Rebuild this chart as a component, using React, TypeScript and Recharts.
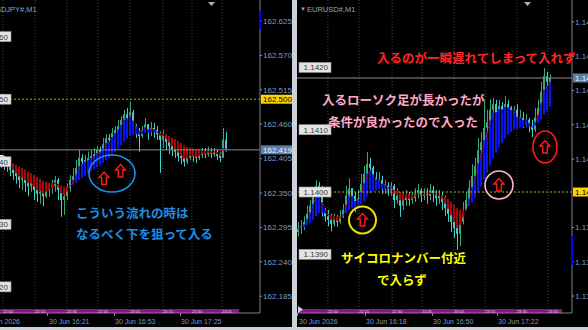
import React from 'react';
import { ComposedChart, Bar, Line, XAxis, YAxis, ReferenceLine, ReferenceDot, ReferenceArea } from 'recharts';

// ---------------- USDJPY#, M1 (left panel) ----------------
const leftFirstOpen = 162.395;
const leftClose = [
  162.403, 162.398, 162.393, 162.387, 162.382, 162.377, 162.371, 162.374, 162.366, 162.361,
  162.365, 162.355, 162.349, 162.352, 162.345, 162.355, 162.358, 162.361, 162.371, 162.355,
  162.339, 162.345, 162.358, 162.371, 162.377, 162.390, 162.406, 162.400, 162.403, 162.406,
  162.409, 162.412, 162.419, 162.416, 162.428, 162.438, 162.435, 162.446, 162.451, 162.457,
  162.467, 162.476, 162.470, 162.479, 162.457, 162.448, 162.441, 162.451, 162.460, 162.448,
  162.454, 162.451, 162.444, 162.435, 162.441, 162.432, 162.425, 162.419, 162.416, 162.409,
  162.406, 162.400, 162.406, 162.412, 162.409, 162.406, 162.411, 162.416, 162.412, 162.416,
  162.412, 162.416, 162.409, 162.406, 162.435, 162.419,
];
const leftHigh = [
  162.408, 162.406, 162.403, 162.397, 162.393, 162.387, 162.384, 162.387, 162.377, 162.371,
  162.374, 162.366, 162.361, 162.361, 162.357, 162.361, 162.366, 162.371, 162.377, 162.374,
  162.358, 162.355, 162.365, 162.379, 162.390, 162.403, 162.419, 162.412, 162.411, 162.416,
  162.419, 162.422, 162.425, 162.424, 162.438, 162.444, 162.444, 162.454, 162.457, 162.467,
  162.473, 162.483, 162.486, 162.496, 162.483, 162.460, 162.454, 162.457, 162.470, 162.460,
  162.464, 162.462, 162.457, 162.448, 162.451, 162.444, 162.438, 162.432, 162.425, 162.422,
  162.419, 162.416, 162.419, 162.422, 162.419, 162.419, 162.419, 162.422, 162.422, 162.424,
  162.422, 162.422, 162.419, 162.416, 162.454, 162.448,
];
const leftLow = [
  162.390, 162.387, 162.384, 162.377, 162.371, 162.365, 162.358, 162.355, 162.352, 162.345,
  162.352, 162.339, 162.336, 162.333, 162.329, 162.342, 162.344, 162.349, 162.352, 162.339,
  162.312, 162.315, 162.339, 162.352, 162.365, 162.374, 162.387, 162.390, 162.393, 162.393,
  162.400, 162.403, 162.408, 162.406, 162.416, 162.422, 162.425, 162.432, 162.435, 162.444,
  162.451, 162.460, 162.457, 162.464, 162.451, 162.438, 162.416, 162.438, 162.451, 162.435,
  162.441, 162.438, 162.435, 162.382, 162.422, 162.419, 162.412, 162.409, 162.406, 162.400,
  162.396, 162.392, 162.396, 162.403, 162.400, 162.398, 162.403, 162.406, 162.406, 162.408,
  162.406, 162.408, 162.403, 162.400, 162.406, 162.416,
];

// ---------------- EURUSD#, M1 (right panel) ----------------
const rightFirstOpen = 1.13936;
const rightClose = [
  1.13942, 1.13945, 1.13952, 1.13965, 1.13978, 1.13994, 1.14010, 1.14003, 1.13968, 1.13961,
  1.13955, 1.13949, 1.13955, 1.13952, 1.13961, 1.13971, 1.13994, 1.14006, 1.13994, 1.13978,
  1.13990, 1.14013, 1.14029, 1.14045, 1.14039, 1.14022, 1.14013, 1.14019, 1.14006, 1.14010,
  1.14003, 1.14010, 1.13987, 1.13994, 1.13978, 1.13987, 1.13994, 1.13987, 1.13990, 1.13997,
  1.14003, 1.13994, 1.13997, 1.13994, 1.14003, 1.13997, 1.13990, 1.13994, 1.13984, 1.13974,
  1.13965, 1.13952, 1.13942, 1.13933, 1.13952, 1.13971, 1.13987, 1.14006, 1.14026, 1.14042,
  1.14067, 1.14080, 1.14103, 1.14112, 1.14132, 1.14141, 1.14128, 1.14138, 1.14132, 1.14141,
  1.14135, 1.14128, 1.14132, 1.14109, 1.14119, 1.14112, 1.14116, 1.14106, 1.14100, 1.14119,
  1.14135, 1.14161, 1.14186, 1.14177, 1.14183,
];
const rightHigh = [
  1.13952, 1.13955, 1.13961, 1.13978, 1.13987, 1.14003, 1.14019, 1.14016, 1.14010, 1.13974,
  1.13971, 1.13965, 1.13965, 1.13963, 1.13971, 1.13981, 1.14010, 1.14022, 1.14006, 1.14000,
  1.14003, 1.14029, 1.14042, 1.14064, 1.14055, 1.14042, 1.14032, 1.14032, 1.14026, 1.14019,
  1.14016, 1.14016, 1.14013, 1.14006, 1.14000, 1.14000, 1.14003, 1.14000, 1.14000, 1.14006,
  1.14013, 1.14006, 1.14006, 1.14006, 1.14013, 1.14010, 1.14003, 1.14003, 1.14000, 1.13994,
  1.13981, 1.13971, 1.13958, 1.13952, 1.13968, 1.13984, 1.14000, 1.14019, 1.14045, 1.14055,
  1.14087, 1.14096, 1.14148, 1.14132, 1.14148, 1.14151, 1.14148, 1.14148, 1.14144, 1.14154,
  1.14148, 1.14138, 1.14138, 1.14141, 1.14132, 1.14128, 1.14125, 1.14119, 1.14116, 1.14135,
  1.14148, 1.14177, 1.14199, 1.14193, 1.14189,
];
const rightLow = [
  1.13929, 1.13933, 1.13939, 1.13952, 1.13961, 1.13974, 1.13987, 1.13990, 1.13961, 1.13952,
  1.13945, 1.13937, 1.13945, 1.13944, 1.13949, 1.13958, 1.13968, 1.13987, 1.13978, 1.13968,
  1.13974, 1.13987, 1.14013, 1.14026, 1.14029, 1.14013, 1.14003, 1.14006, 1.13997, 1.13997,
  1.13994, 1.13994, 1.13974, 1.13981, 1.13960, 1.13971, 1.13978, 1.13978, 1.13981, 1.13984,
  1.13990, 1.13984, 1.13987, 1.13981, 1.13987, 1.13984, 1.13978, 1.13981, 1.13971, 1.13961,
  1.13952, 1.13936, 1.13926, 1.13907, 1.13913, 1.13948, 1.13971, 1.13984, 1.14003, 1.14022,
  1.14042, 1.14058, 1.14080, 1.14093, 1.14106, 1.14109, 1.14116, 1.14120, 1.14122, 1.14127,
  1.14125, 1.14119, 1.14120, 1.14103, 1.14106, 1.14103, 1.14104, 1.14096, 1.14088, 1.14096,
  1.14116, 1.14127, 1.14158, 1.14167, 1.14170,
];

// ---------------- axes / labels ----------------
const leftPriceTicks = [162.625, 162.57, 162.515, 162.46, 162.405, 162.35, 162.295, 162.24, 162.185];
const rightPriceTicks = [1.14273, 1.14218, 1.14163, 1.14108, 1.14053, 1.13943, 1.13888, 1.13833];

const leftTimeSlots = [6.67, 16, 38, 60];
const leftTimeLabels = ['30 Jun 2026', '30 Jun 16:21', '30 Jun 16:53', '30 Jun 17:25'];
const rightTimeSlots = [0.33, 22.7, 45, 66.7];
const rightTimeLabels = ['30 Jun 2026', '30 Jun 16:18', '30 Jun 16:50', '30 Jun 17:22'];

const leftGridSlots = [1, 11.7, 22.3, 32.7, 43.3, 54.3, 64, 74];
const rightGridSlots = [10.3, 20.7, 31.7, 41.7, 52.3, 62.7, 73.3, 83.7];
const bandLabels = ['22:00', '22:15', '22:30', '22:45', '23:00', '23:15', '23:30', '23:45'];

const leftLevels = [162.6, 162.5, 162.4, 162.3, 162.2];
const leftLevelLabels = ['162.60', '162.50', '162.40', '162.30', '162.20'];
const rightLevels = [1.142, 1.141, 1.14, 1.139];
const rightLevelLabels = ['1.1420', '1.1410', '1.1400', '1.1390'];

const leftBid = 162.419;
const leftAlert = 162.5;
const rightBid = 1.14183;
const rightAlert = 1.14;

// annotations (slot, price)
const leftNotes = [
  { slot: 25.3, price: 162.3181, text: 'こういう流れの時は' },
  { slot: 25.3, price: 162.2845, text: 'なるべく下を狙って入る' },
];
const leftRings = [{ slot: 37.33, price: 162.3812 }];
const leftArrows = [
  { slot: 34.67, price: 162.3732 },
  { slot: 40.17, price: 162.3852 },
];
const rightRedNotes = [{ slot: 26.7, price: 1.142167, text: '入るのが一瞬遅れてしまって入れず' }];
const rightPinkNotes = [
  { slot: 8.3, price: 1.141477, text: '入るローソク足が長かったが' },
  { slot: 10.3, price: 1.141124, text: '条件が良かったので入った' },
];
const rightYellowNotes = [
  { slot: 14.7, price: 1.138941, text: 'サイコロナンバー付近' },
  { slot: 26.7, price: 1.138588, text: 'で入らず' },
];
const rightYellowRing = { slot: 21.83, price: 1.139551 };
const rightPinkRing = { slot: 67.33, price: 1.140112 };
const rightRedRing = { slot: 82.67, price: 1.140722 };

// ---------------- helpers ----------------
const BULL = '#35ab7c';
const BEAR = '#3fd0cc';
const AXIS_TXT = '#7a9cc6';
const FONT = "'Liberation Sans', Arial, sans-serif";
const JP = "'Noto Sans CJK JP', 'Noto Sans CJK SC', sans-serif";
const TOP = 2100;

function ema(vals: number[], n: number) {
  const k = 2 / (n + 1);
  let e = vals[0];
  return vals.map((v) => (e = e + k * (v - e)));
}

function build(open0: number, close: number[], high: number[], low: number[]) {
  const f = ema(close, 3);
  const s = ema(close, 16);
  return close.map((c, i) => ({
    x: i + 0.5,
    o: i === 0 ? open0 : close[i - 1],
    h: high[i],
    l: low[i],
    c,
    f: f[i],
    s: s[i],
  }));
}

const leftData = build(leftFirstOpen, leftClose, leftHigh, leftLow);
const rightData = build(rightFirstOpen, rightClose, rightHigh, rightLow);

function CandleShape(props: any) {
  const { x, y, width, height, payload } = props;
  if (!payload || !isFinite(y) || !isFinite(height)) return null;
  const top = Math.min(y, y + height);
  const hp = Math.abs(height);
  const cx = Math.floor(x + width / 2);
  const range = payload.h - payload.l;
  const k = range > 0 ? hp / range : 0;
  const yo = top + (payload.h - payload.o) * k;
  const yc = top + (payload.h - payload.c) * k;
  const col = payload.c >= payload.o ? BULL : BEAR;
  return (
    <g>
      <rect x={cx} y={top} width={1} height={Math.max(1, hp)} fill={col} />
      <rect x={cx - 1} y={Math.min(yo, yc)} width={2} height={Math.max(1, Math.abs(yc - yo))} fill={col} />
    </g>
  );
}

function CloudShape(props: any) {
  const { x, y, width, height, payload } = props;
  if (!payload || !isFinite(y) || !isFinite(height)) return null;
  const top = Math.min(y, y + height);
  const hp = Math.abs(height);
  const cx = Math.floor(x + width / 2);
  const col = payload.f >= payload.s ? '#0a14f0' : '#a80808';
  return <rect x={cx - 1} y={top} width={2} height={Math.max(1, hp)} fill={col} />;
}

const arrowShape = (p: any) => {
  const cx = p.cx;
  const cy = p.cy;
  return (
    <path
      d={`M${cx},${cy - 6.5} L${cx + 5},${cy - 1} L${cx + 2.3},${cy - 1} L${cx + 2.3},${cy + 6} L${cx - 2.3},${cy + 6} L${cx - 2.3},${cy - 1} L${cx - 5},${cy - 1} Z`}
      fill="none"
      stroke="#ff1a1a"
      strokeWidth={1.4}
    />
  );
};

const ringShape = (stroke: string, rx: number, ry: number, sw: number) => (p: any) => (
  <ellipse cx={p.cx} cy={p.cy} rx={rx} ry={ry} fill="none" stroke={stroke} strokeWidth={sw} />
);

const noteShape = (text: string, color: string) => (p: any) => (
  <text x={p.cx} y={p.cy} dominantBaseline="central" fill={color} fontSize={12.5} fontWeight={700} fontFamily={JP}>
    {text}
  </text>
);

const levelShape = (label: string, dx: number) => (p: any) => (
  <g>
    <rect x={p.cx + dx} y={p.cy - 5} width={32} height={10} fill="#e4e4e4" stroke="#9a9a9a" strokeWidth={0.6} />
    <text x={p.cx + dx + 29} y={p.cy + 0.5} textAnchor="end" dominantBaseline="central" fill="#3a3a3a" fontSize={8} fontFamily={FONT}>
      {label}
    </text>
  </g>
);

const tagShape = (label: string, bg: string, fg: string) => (p: any) => (
  <g>
    <rect x={p.cx + 1} y={p.cy - 4.5} width={36} height={9} fill={bg} />
    <text x={p.cx + 3} y={p.cy + 0.5} dominantBaseline="central" fill={fg} fontSize={8} fontFamily={FONT}>
      {label}
    </text>
  </g>
);

const bandTextShape = (label: string) => (p: any) => (
  <text x={p.cx} y={p.cy} textAnchor="start" dominantBaseline="central" fill="#e8c8e8" fontSize={4} fontFamily={FONT}>
    {label}
  </text>
);

const timeTick = (slots: number[], labels: string[], firstEnd: boolean) => (p: any) => {
  const idx = slots.indexOf(p.payload.value);
  const label = labels[idx] ?? '';
  const end = firstEnd && idx === 0;
  const x = p.x;
  return (
    <g>
      {!end && <rect x={Math.floor(x)} y={313} width={1} height={3} fill="#8a8a8a" />}
      <text
        x={end ? x : x + 1}
        y={321}
        textAnchor={end ? 'end' : 'start'}
        dominantBaseline="central"
        fill={AXIS_TXT}
        fontSize={7}
        fontFamily={FONT}
      >
        {label}
      </text>
    </g>
  );
};

type PanelCfg = {
  width: number;
  axisW: number;
  xMax: number;
  yDomain: [number, number];
  data: any[];
  priceTicks: number[];
  digits: number;
  timeSlots: number[];
  timeLabels: string[];
  firstEnd: boolean;
  gridSlots: number[];
  bandFrom: number;
  bandTo: number;
  levels: number[];
  levelLabels: string[];
  levelDx: number;
  bid: number;
  alert: number;
  extras: React.ReactNode[];
};

function Panel(cfg: PanelCfg) {
  const pxPrice = (cfg.yDomain[1] - cfg.yDomain[0]) / 313;
  const bandTop = cfg.yDomain[0] + 4 * pxPrice;
  const bandMid = cfg.yDomain[0] + 2 * pxPrice;
  return (
    <ComposedChart
      width={cfg.width}
      height={327}
      data={cfg.data}
      margin={{ top: 0, right: 0, bottom: 0, left: 0 }}
    >
      <XAxis
        type="number"
        dataKey="x"
        domain={[0, cfg.xMax]}
        allowDataOverflow
        ticks={cfg.timeSlots}
        interval={0}
        height={14}
        tickSize={0}
        tickMargin={0}
        tickLine={false}
        axisLine={{ stroke: '#808080' }}
        tick={timeTick(cfg.timeSlots, cfg.timeLabels, cfg.firstEnd)}
      />
      <XAxis xAxisId="cloud" type="number" dataKey="x" domain={[0, cfg.xMax]} allowDataOverflow hide />
      <YAxis
        orientation="right"
        type="number"
        domain={cfg.yDomain}
        allowDataOverflow
        ticks={cfg.priceTicks}
        interval={0}
        width={cfg.axisW}
        tickSize={2}
        tickMargin={1}
        tickLine={{ stroke: AXIS_TXT }}
        axisLine={{ stroke: '#808080' }}
        tick={{ fill: AXIS_TXT, fontSize: 8, fontFamily: FONT }}
        tickFormatter={(v: number) => v.toFixed(cfg.digits)}
      />
      {cfg.gridSlots.map((g) => (
        <ReferenceLine key={'g' + g} x={g} stroke="#3e4a3e" strokeDasharray="1 2" zIndex={-50} />
      ))}
      <ReferenceLine y={cfg.alert} stroke="#b8a41c" strokeDasharray="2 2" />
      <ReferenceLine y={cfg.bid} stroke="#8c8c8c" />
      <Bar dataKey={(d: any) => [d.l, d.h]} shape={CandleShape} barSize={2} isAnimationActive={false} />
      <Bar
        xAxisId="cloud"
        dataKey={(d: any) => [Math.min(d.f, d.s), Math.max(d.f, d.s)]}
        shape={CloudShape}
        barSize={2}
        isAnimationActive={false}
      />
      <Line
        dataKey="f"
        stroke="#ff2020"
        strokeWidth={1}
        strokeDasharray="1 1.5"
        dot={false}
        isAnimationActive={false}
      />
      <ReferenceArea
        x1={cfg.bandFrom}
        x2={cfg.bandTo}
        y1={cfg.yDomain[0]}
        y2={bandTop}
        fill="#8e118e"
        fillOpacity={1}
        stroke="none"
        ifOverflow="visible"
      />
      {cfg.gridSlots.map((g, i) => (
        <ReferenceDot key={'b' + g} x={g} y={bandMid} r={1} ifOverflow="visible" zIndex={TOP} shape={bandTextShape(bandLabels[i])} />
      ))}
      {cfg.levels.map((lv, i) => (
        <ReferenceDot key={'l' + lv} x={0} y={lv} r={1} ifOverflow="visible" zIndex={TOP} shape={levelShape(cfg.levelLabels[i], cfg.levelDx)} />
      ))}
      <ReferenceDot
        x={cfg.xMax}
        y={cfg.alert}
        r={1}
        ifOverflow="visible"
        zIndex={TOP}
        shape={tagShape(cfg.alert.toFixed(cfg.digits), '#ffd200', '#000000')}
      />
      <ReferenceDot
        x={cfg.xMax}
        y={cfg.bid}
        r={1}
        ifOverflow="visible"
        zIndex={TOP}
        shape={tagShape(cfg.bid.toFixed(cfg.digits), '#5b80aa', '#eef3f8')}
      />
      {cfg.extras}
    </ComposedChart>
  );
}

export default function App() {
  const leftExtras = [
    ...leftRings.map((r, i) => (
      <ReferenceDot key={'lr' + i} x={r.slot} y={r.price} r={1} ifOverflow="visible" zIndex={TOP} shape={ringShape('#1e90e8', 23, 18.5, 1.6)} />
    )),
    ...leftArrows.map((a, i) => (
      <ReferenceDot key={'la' + i} x={a.slot} y={a.price} r={1} ifOverflow="visible" zIndex={TOP} shape={arrowShape} />
    )),
    ...leftNotes.map((n, i) => (
      <ReferenceDot key={'ln' + i} x={n.slot} y={n.price} r={1} ifOverflow="visible" zIndex={TOP} shape={noteShape(n.text, '#1c8fe6')} />
    )),
  ];
  const rightExtras = [
    <ReferenceDot key="ry" x={rightYellowRing.slot} y={rightYellowRing.price} r={1} ifOverflow="visible" zIndex={TOP} shape={ringShape('#f0e000', 13.5, 13.5, 2)} />,
    <ReferenceDot key="rp" x={rightPinkRing.slot} y={rightPinkRing.price} r={1} ifOverflow="visible" zIndex={TOP} shape={ringShape('#ffb4c8', 14, 14, 1.6)} />,
    <ReferenceDot key="rr" x={rightRedRing.slot} y={rightRedRing.price} r={1} ifOverflow="visible" zIndex={TOP} shape={ringShape('#ff1a1a', 12, 16, 1.6)} />,
    ...[rightYellowRing, rightPinkRing, rightRedRing].map((a, i) => (
      <ReferenceDot key={'ra' + i} x={a.slot} y={a.price} r={1} ifOverflow="visible" zIndex={TOP} shape={arrowShape} />
    )),
    ...rightRedNotes.map((n, i) => (
      <ReferenceDot key={'rn' + i} x={n.slot} y={n.price} r={1} ifOverflow="visible" zIndex={TOP} shape={noteShape(n.text, '#ff2626')} />
    )),
    ...rightPinkNotes.map((n, i) => (
      <ReferenceDot key={'pn' + i} x={n.slot} y={n.price} r={1} ifOverflow="visible" zIndex={TOP} shape={noteShape(n.text, '#ffa8c4')} />
    )),
    ...rightYellowNotes.map((n, i) => (
      <ReferenceDot key={'yn' + i} x={n.slot} y={n.price} r={1} ifOverflow="visible" zIndex={TOP} shape={noteShape(n.text, '#ffff00')} />
    )),
  ];

  return (
    <div
      style={{
        position: 'fixed',
        left: 0,
        top: 0,
        width: 588,
        height: 330,
        overflow: 'hidden',
        background: '#cdd2da',
      }}
    >
      <div style={{ position: 'absolute', left: 0, top: 0, width: 292, height: 327, background: '#000' }}>
        <Panel
          width={292}
          axisW={32}
          xMax={260 / 3}
          yDomain={[162.1582, 162.6586]}
          data={leftData}
          priceTicks={leftPriceTicks}
          digits={3}
          timeSlots={leftTimeSlots}
          timeLabels={leftTimeLabels}
          firstEnd={true}
          gridSlots={leftGridSlots}
          bandFrom={0}
          bandTo={79.7}
          levels={leftLevels}
          levelLabels={leftLevelLabels}
          levelDx={-21}
          bid={leftBid}
          alert={leftAlert}
          extras={leftExtras}
        />
      </div>
      <div style={{ position: 'absolute', left: 297, top: 0, width: 291, height: 327, background: '#000' }}>
        <Panel
          width={291}
          axisW={16}
          xMax={275 / 3}
          yDomain={[1.138058, 1.143082]}
          data={rightData}
          priceTicks={rightPriceTicks}
          digits={5}
          timeSlots={rightTimeSlots}
          timeLabels={rightTimeLabels}
          firstEnd={false}
          gridSlots={rightGridSlots}
          bandFrom={0.33}
          bandTo={88.3}
          levels={rightLevels}
          levelLabels={rightLevelLabels}
          levelDx={2}
          bid={rightBid}
          alert={rightAlert}
          extras={rightExtras}
        />
      </div>
      <svg
        width={588}
        height={330}
        style={{ position: 'absolute', left: 0, top: 0, pointerEvents: 'none' }}
      >
        <text x={-9.5} y={9} dominantBaseline="central" fill="#8aa8c8" fontSize={7.5} fontFamily={FONT}>
          USDJPY#,M1
        </text>
        <text x={300} y={9} dominantBaseline="central" fill="#8aa8c8" fontSize={6} fontFamily={FONT}>
          ▼
        </text>
        <text x={307} y={9} dominantBaseline="central" fill="#8aa8c8" fontSize={7.5} fontFamily={FONT}>
          EURUSD#,M1
        </text>
        <path d="M208,2 L215,2 L211.5,6 Z" fill="#a8b0bc" />
        <path d="M524,2 L531,2 L527.5,6 Z" fill="#a8b0bc" />
        <rect x={259} y={11} width={2} height={18} fill="#0000ff" />
        <rect x={571} y={236} width={2} height={29} fill="#0000ff" />
        <path d="M298,306 L303,309.5 L298,313 Z" fill="#c8d0e0" />
      </svg>
    </div>
  );
}
